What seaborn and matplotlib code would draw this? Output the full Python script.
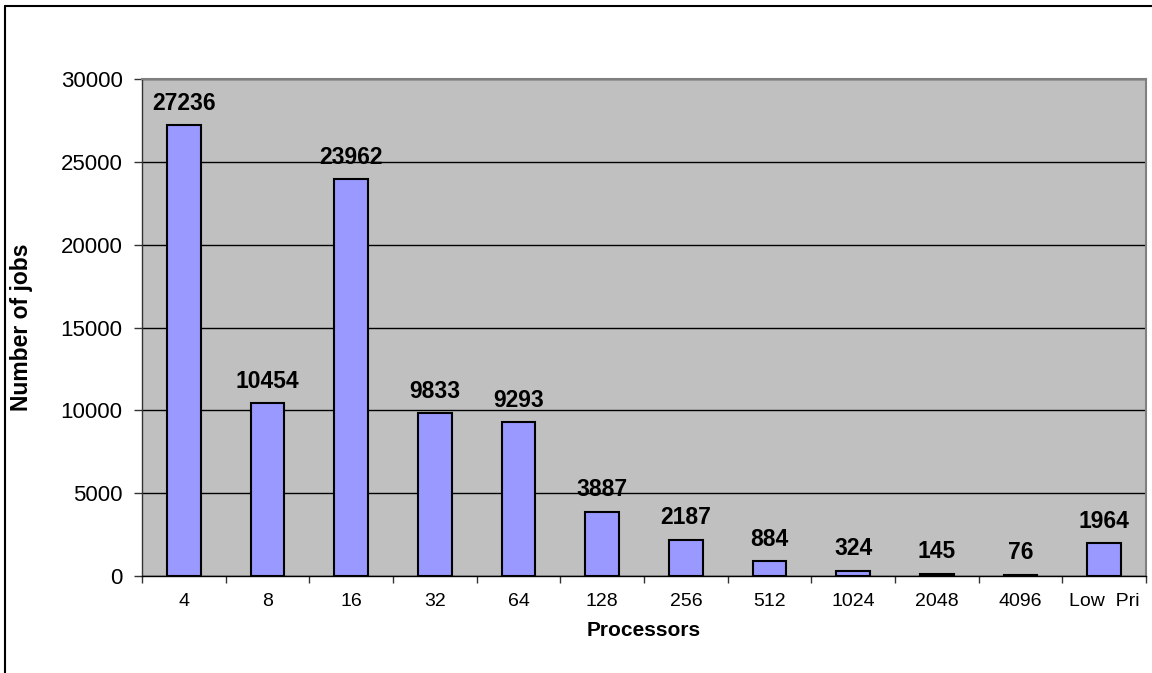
import matplotlib
matplotlib.use("Agg")
import matplotlib.pyplot as plt
from matplotlib.lines import Line2D
import numpy as np
import pandas as pd
import seaborn as sns

processors = ["4", "8", "16", "32", "64", "128", "256", "512", "1024", "2048", "4096", "Low  Pri"]
jobs = [27236, 10454, 23962, 9833, 9293, 3887, 2187, 884, 324, 145, 76, 1964]
y_ticks = [0, 5000, 10000, 15000, 20000, 25000, 30000]

sns.set_style("white")
plt.rcParams["font.family"] = ["Liberation Sans", "DejaVu Sans"]
plt.rcParams.update({"text.color": "black", "axes.labelcolor": "black",
                     "xtick.color": "black", "ytick.color": "black"})

df = pd.DataFrame({"Processors": processors, "Number of jobs": jobs})

W, H = 1152, 673
fig = plt.figure(figsize=(W / 100, H / 100), dpi=100)
ax = fig.add_axes([142 / W, 1 - 576 / H, (1146 - 142) / W, (576 - 79) / H])

sns.barplot(data=df, x="Processors", y="Number of jobs", order=processors,
            color="#9999FF", saturation=1, width=0.40, edgecolor="black",
            linewidth=1.5, ax=ax, zorder=3)

ax.set_facecolor("#C0C0C0")
ax.set_xlim(-0.5, len(processors) - 0.5)
ax.set_ylim(0, 30000)
ax.set_yticks(y_ticks)
ax.set_yticklabels([str(v) for v in y_ticks], fontsize=16)
ax.yaxis.grid(True, color="black", linewidth=1, zorder=0)
ax.set_axisbelow(True)

ax.set_xticks(range(len(processors)))
ax.set_xticklabels(processors, fontsize=14)
ax.tick_params(axis="x", which="major", length=0, pad=12)
ax.set_xticks(np.arange(-0.5, len(processors), 1.0), minor=True)
ax.tick_params(axis="x", which="minor", length=5, width=1, color="#333333", bottom=True)
ax.tick_params(axis="y", which="major", length=6, width=1, color="#333333", left=True, pad=8)

for side in ("top", "right"):
    ax.spines[side].set_color("#808080")
    ax.spines[side].set_linewidth(1.5)
ax.spines["left"].set_color("#333333")
ax.spines["bottom"].set_color("black")
for side in ("left", "bottom"):
    ax.spines[side].set_linewidth(1)

for i, v in enumerate(jobs):
    ax.annotate(str(v), (i, v), xytext=(0, 11), textcoords="offset points",
                ha="center", va="baseline", fontsize=16.5, fontweight="bold")

ax.set_xlabel("Processors", fontsize=15, fontweight="bold")
ax.set_ylabel("Number of jobs", fontsize=16.5, fontweight="bold")
ax.xaxis.set_label_coords(0.5, -0.09)
ax.yaxis.set_label_coords(-0.109, 0.5)

# outer chart frame
fig.add_artist(Line2D([5 / W, 5 / W], [0, 1 - 6 / H], transform=fig.transFigure,
                      color="black", linewidth=1.5))
fig.add_artist(Line2D([5 / W, 1], [1 - 6 / H, 1 - 6 / H], transform=fig.transFigure,
                      color="black", linewidth=1.5))

fig.savefig("out.png", dpi=100, facecolor="white")
